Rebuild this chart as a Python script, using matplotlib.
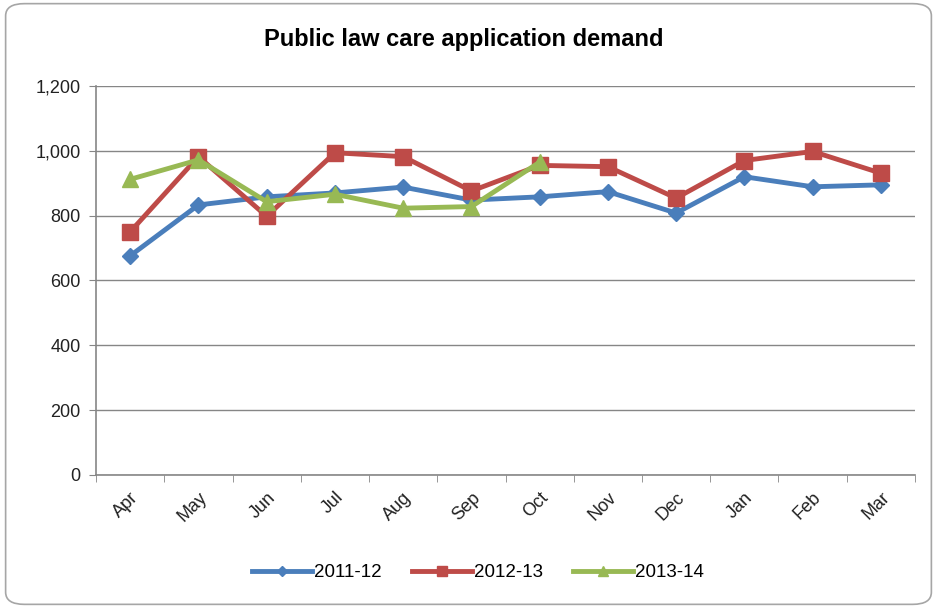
import matplotlib

matplotlib.use("Agg")
import matplotlib.pyplot as plt
from matplotlib.patches import FancyBboxPatch
from matplotlib.ticker import FuncFormatter
import numpy as np

plt.rcParams["font.family"] = ["Liberation Sans", "DejaVu Sans"]

months = ["Apr", "May", "Jun", "Jul", "Aug", "Sep", "Oct", "Nov", "Dec", "Jan", "Feb", "Mar"]
y2011 = [676, 833, 858, 870, 888, 848, 858, 874, 808, 920, 889, 895]
y2012 = [750, 982, 798, 994, 982, 876, 955, 951, 854, 970, 998, 931]
y2013 = [912, 972, 843, 866, 823, 828, 965]

fig = plt.figure(figsize=(9.37, 6.08), dpi=100)
# rounded chart border
border = FancyBboxPatch((0.006, 0.006), 0.988, 0.988, boxstyle="round,pad=0,rounding_size=0.02",
                        transform=fig.transFigure, fill=False, edgecolor="#a6a6a6", linewidth=1.2)
fig.patches.append(border)

ax = fig.add_axes([0.1025, 0.2188, 0.874, 0.6398])
x = np.arange(len(months))
ax.plot(x, y2011, color="#4a7ebb", marker="D", markersize=8, linewidth=3.5, label="2011-12", zorder=3)
ax.plot(x, y2012, color="#be4b48", marker="s", markersize=11, linewidth=3.5, label="2012-13", zorder=4)
ax.plot(x[:len(y2013)], y2013, color="#98b954", marker="^", markersize=11, linewidth=3.5, label="2013-14", zorder=5)

ax.set_xlim(-0.5, len(months) - 0.5)
ax.set_ylim(0, 1200)
ax.set_yticks(range(0, 1201, 200))
ax.yaxis.set_major_formatter(FuncFormatter(lambda v, _: f"{int(v):,}"))
ax.set_xticks(x)
ax.set_xticklabels(months, rotation=45, ha="right", rotation_mode="anchor")
ax.set_xticks(np.arange(-0.5, len(months), 1), minor=True)
ax.tick_params(axis="x", which="major", length=0, labelsize=13, pad=10)
ax.tick_params(axis="x", which="minor", length=5, color="#868686", direction="out")
ax.tick_params(axis="y", length=5, color="#868686", labelsize=13, pad=6, labelcolor="#222222")
ax.tick_params(axis="x", labelcolor="#222222")
ax.grid(axis="y", color="#868686", linewidth=1)
ax.set_axisbelow(True)
for s in ["top", "right"]:
    ax.spines[s].set_visible(False)
for s in ["left", "bottom"]:
    ax.spines[s].set_color("#868686")
    ax.spines[s].set_linewidth(1.2)

fig.text(0.495, 0.935, "Public law care application demand", ha="center", va="center",
         fontsize=17, fontweight="bold")
fig.legend(loc="center", bbox_to_anchor=(0.51, 0.058), ncol=3, frameon=False, fontsize=13.5,
           handlelength=3.2, handletextpad=0.1, columnspacing=1.6, markerscale=0.6)

fig.savefig("out.png", dpi=100)
